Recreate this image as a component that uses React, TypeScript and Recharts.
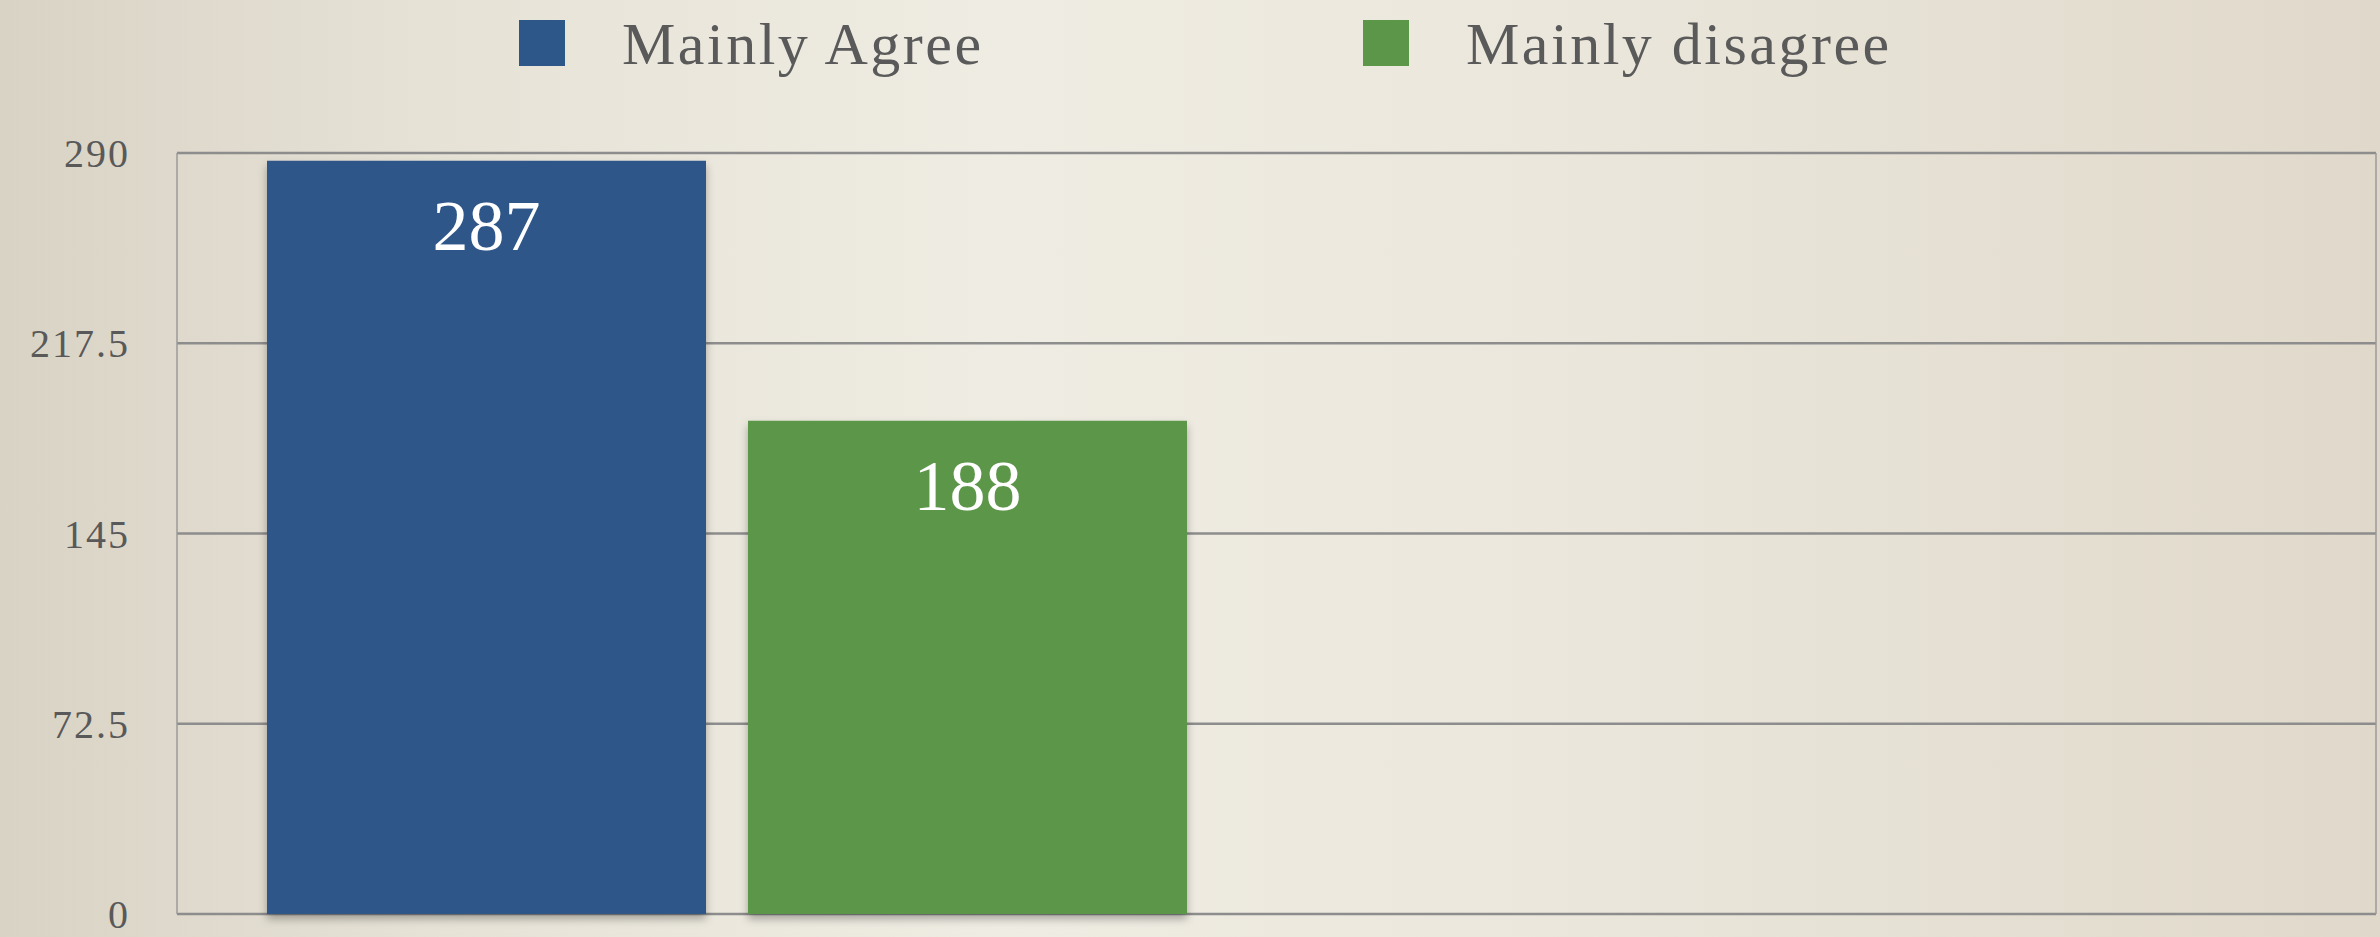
import React from "react";
import {
  BarChart,
  Bar,
  XAxis,
  YAxis,
  CartesianGrid,
  Legend,
  LabelList,
} from "recharts";

const categories = ["Responses", ""];
const agreeValues = [287, null];
const disagreeValues = [188, null];
const yTicks = [0, 72.5, 145, 217.5, 290];

const SERIES = [
  { key: "agree", name: "Mainly Agree", color: "#2e5789" },
  { key: "disagree", name: "Mainly disagree", color: "#5c9648" },
];

const data = categories.map((c, i) => ({
  category: c,
  agree: agreeValues[i],
  disagree: disagreeValues[i],
}));

const FONT = "'Liberation Serif', 'Times New Roman', serif";

const LegendContent = () => (
  <div
    style={{
      height: 153,
      boxSizing: "border-box",
      paddingTop: 20,
      paddingLeft: 519,
      display: "flex",
      alignItems: "flex-start",
      fontFamily: FONT,
    }}
  >
    {SERIES.map((s, i) => (
      <div
        key={s.key}
        style={{
          display: "flex",
          alignItems: "flex-end",
          width: i === 0 ? 844 : "auto",
        }}
      >
        <div style={{ width: 46, height: 46, background: s.color }} />
        <span
          style={{
            marginLeft: 57,
            fontSize: 60,
            lineHeight: "46px",
            color: "#5a5a5a",
            letterSpacing: 2.5,
            position: "relative",
            top: 1,
          }}
        >
          {s.name}
        </span>
      </div>
    ))}
  </div>
);

export default function App() {
  return (
    <div
      style={{
        width: 2380,
        height: 937,
        position: "absolute",
        top: 0,
        left: 0,
        background:
          "linear-gradient(90deg, #d9d3c5 0%, #e6e2d6 18%, #efece3 42%, #ebe7dc 65%, #e0d9cb 100%)",
      }}
    >
      <style>{"body{margin:0}"}</style>
      <BarChart
        width={2380}
        height={937}
        data={data}
        margin={{ top: 0, right: 0, bottom: 23, left: 0 }}
        barSize={439}
        barGap={42}
      >
        <defs>
          <filter id="barShadow" x="-10%" y="-10%" width="120%" height="120%">
            <feDropShadow dx="0" dy="5" stdDeviation="4" floodColor="#000" floodOpacity="0.3" />
          </filter>
        </defs>
        <CartesianGrid vertical={false} stroke="#8d8d8d" strokeWidth={2.5} />
        <XAxis dataKey="category" hide />
        <YAxis
          domain={[0, 290]}
          ticks={yTicks}
          width={177}
          tickSize={0}
          tickMargin={47}
          axisLine={{ stroke: "#9a9a9a", strokeWidth: 1.5 }}
          tickLine={false}
          tick={{ fill: "#595959", fontSize: 40, fontFamily: FONT, letterSpacing: 2 }}
          interval={0}
        />
        <YAxis
          yAxisId="right"
          orientation="right"
          domain={[0, 290]}
          width={4}
          tick={false}
          tickLine={false}
          axisLine={{ stroke: "#9a9a9a", strokeWidth: 1.5 }}
        />
        <Legend verticalAlign="top" content={<LegendContent />} wrapperStyle={{ left: 0, top: 0, width: 2380 }} />
        {SERIES.map((s) => (
          <Bar
            key={s.key}
            dataKey={s.key}
            name={s.name}
            fill={s.color}
            filter="url(#barShadow)"
            isAnimationActive={false}
          >
            <LabelList
              dataKey={s.key}
              position="insideTop"
              offset={38}
              fill="#ffffff"
              style={{ fontSize: 72, fontFamily: FONT }}
            />
          </Bar>
        ))}
      </BarChart>
    </div>
  );
}
